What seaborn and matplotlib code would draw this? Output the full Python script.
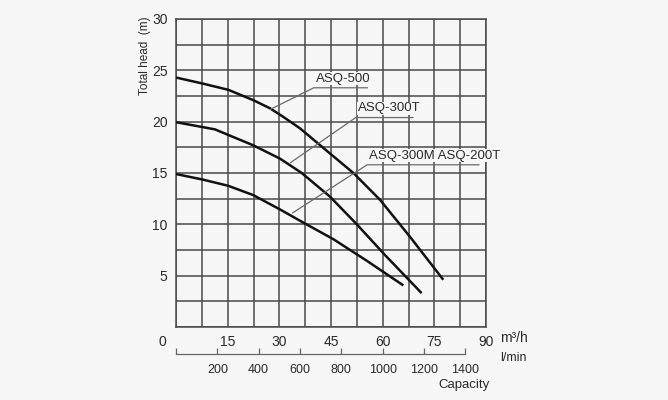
import pandas as pd
import seaborn as sns
import matplotlib
matplotlib.use("Agg", force=True)
import matplotlib.pyplot as plt
from matplotlib.ticker import MultipleLocator

# Pump curves: capacity (m3/h) vs total head (m)
q_500 = [0, 7.9, 15.2, 22.4, 27.3, 31, 36, 44, 51.5, 59.2, 67.9, 77.6]
h_500 = [24.3, 23.7, 23.1, 22.1, 21.3, 20.5, 19.35, 17.1, 15.0, 12.4, 8.8, 4.6]

q_300t = [0, 11.3, 22.4, 30.2, 36.5, 44.7, 52.5, 60.7, 71.3]
h_300t = [19.95, 19.25, 17.7, 16.4, 15.0, 12.7, 10.0, 7.0, 3.3]

q_300m = [0, 7.9, 15.2, 22.4, 30.2, 36, 45.7, 55.4, 66]
h_300m = [14.9, 14.35, 13.75, 12.85, 11.45, 10.35, 8.55, 6.45, 4.05]

series_names = ["ASQ-500", "ASQ-300T", "ASQ-300M ASQ-200T"]

x_ticks = [15, 30, 45, 60, 75, 90]
y_ticks = [5, 10, 15, 20, 25, 30]
lmin_ticks = [0, 200, 400, 600, 800, 1000, 1200, 1400]

# label text + leader line (curve point -> underline start -> underline end)
labels = [
    ("ASQ-500", (27.4, 21.2), (40.0, 23.3), (55.6, 23.3)),
    ("ASQ-300T", (33.2, 16.0), (52.2, 20.4), (68.8, 20.4)),
    ("ASQ-300M ASQ-200T", (33.8, 11.1), (55.5, 15.8), (88.0, 15.8)),
]

frames = []
for name, q, h in zip(series_names, [q_500, q_300t, q_300m], [h_500, h_300t, h_300m]):
    frames.append(pd.DataFrame({"capacity": q, "head": h, "model": name}))
df = pd.concat(frames, ignore_index=True)

sns.set_theme(style="white")
plt.rcParams["font.family"] = ["Liberation Sans", "DejaVu Sans"]
txt = "#2a2a2a"
bg = "#f7f7f7"

fig = plt.figure(figsize=(6.68, 4.0), dpi=100, facecolor=bg)
ax = fig.add_axes([176 / 668, 1 - 327 / 400, 310 / 668, 308 / 400], facecolor=bg)

sns.lineplot(data=df, x="capacity", y="head", hue="model", estimator=None, sort=False,
             palette=["#111111"] * 3, linewidth=1.8, legend=False, ax=ax, zorder=3)
for line in ax.lines:
    line.set_solid_joinstyle("round")
    line.set_solid_capstyle("butt")

ax.set_xlim(0, 90)
ax.set_ylim(0, 30)
ax.xaxis.set_minor_locator(MultipleLocator(7.5))
ax.yaxis.set_minor_locator(MultipleLocator(2.5))
ax.set_xticks(x_ticks)
ax.set_yticks(y_ticks)
ax.set_xticklabels([str(v) for v in x_ticks])
ax.set_yticklabels([str(v) for v in y_ticks])
ax.grid(which="both", color="#4a4a4a", linewidth=1.1)
ax.set_axisbelow(True)
for s in ax.spines.values():
    s.set_color("#4a4a4a")
    s.set_linewidth(1.1)
ax.tick_params(axis="both", which="both", length=0, labelsize=10, colors=txt)
ax.tick_params(axis="x", pad=6)
ax.tick_params(axis="y", pad=6)
ax.set_xlabel("")
ax.set_ylabel("")

ax.text(-4, -1.45, "0", ha="center", va="center", fontsize=10, color=txt)
ax.text(-0.1, 0.882, "Total head  (m)", transform=ax.transAxes, rotation=90,
        ha="center", va="center", fontsize=8.5, color=txt)

# second capacity scale in l/min
sec = ax.secondary_xaxis(-0.088, functions=(lambda q: q * 50 / 3, lambda l: l * 3 / 50))
sec.set_xticks(lmin_ticks)
sec.set_xticklabels([""] + [str(v) for v in lmin_ticks[1:]])
sec.tick_params(direction="in", length=4, width=0.9, color="#666666", labelsize=9,
                labelcolor=txt, pad=7)
sec.spines["bottom"].set_bounds(0, 1400)
sec.spines["bottom"].set_color("#666666")
sec.spines["bottom"].set_linewidth(0.9)

fig.text(500 / 668, 1 - 338 / 400, "m³/h", ha="left", va="center", fontsize=10, color=txt)
fig.text(500 / 668, 1 - 358 / 400, "l/min", ha="left", va="center", fontsize=9, color=txt)
fig.text(490 / 668, 1 - 385 / 400, "Capacity", ha="right", va="center", fontsize=9.5, color=txt)

for name, p0, p1, p2 in labels:
    ax.plot([p0[0], p1[0], p2[0]], [p0[1], p1[1], p2[1]], color="#6a6a6a", linewidth=0.9,
            zorder=4, solid_joinstyle="miter")
    ax.text(p1[0] + 0.5, p1[1] + 0.3, name, ha="left", va="bottom", fontsize=9.5,
            color=txt, zorder=5,
            bbox=dict(facecolor=bg, edgecolor="none", pad=0.4))

fig.savefig("out.png", dpi=100, facecolor=bg)
